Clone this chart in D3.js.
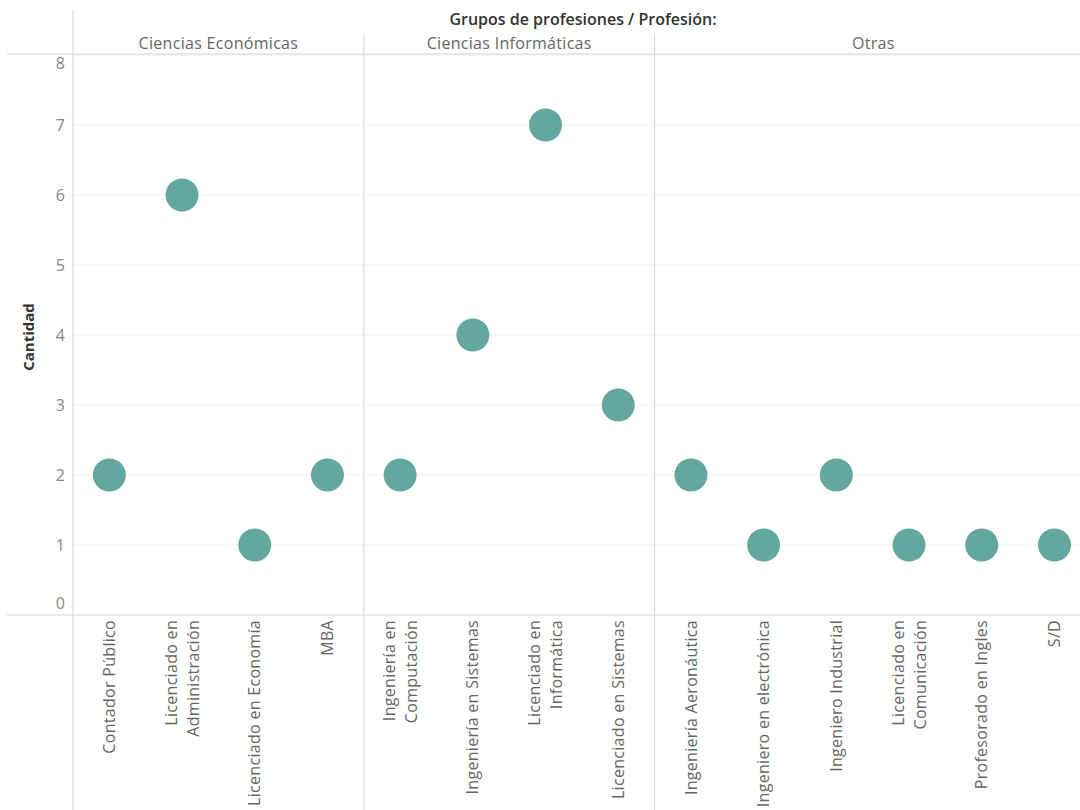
<!DOCTYPE html>
<html>
<head>
<meta charset="utf-8">
<script src="https://cdnjs.cloudflare.com/ajax/libs/d3/7.8.5/d3.min.js"></script>
<style>
  body { margin: 0; background: #fff; }
  svg { display: block; font-family: "Open Sans", Lato, sans-serif; }
</style>
</head>
<body>
<script>
'use strict';

const width = 1080;
const height = 810;

// data
const groups = ['Ciencias Económicas', 'Ciencias Informáticas', 'Otras'];
const professions = [
  'Contador Público', 'Licenciado en|Administración', 'Licenciado en Economía', 'MBA',
  'Ingeniería en|Computación', 'Ingeniería en Sistemas', 'Licenciado en|Informática', 'Licenciado en Sistemas',
  'Ingeniería Aeronáutica', 'Ingeniero en electrónica', 'Ingeniero Industrial', 'Licenciado en|Comunicación',
  'Profesorado en Ingles', 'S/D'
];
const professionGroup = [0, 0, 0, 0, 1, 1, 1, 1, 2, 2, 2, 2, 2, 2];
const counts = [2, 6, 1, 2, 2, 4, 7, 3, 2, 1, 2, 1, 1, 1];
const yTicks = [0, 1, 2, 3, 4, 5, 6, 7, 8];

const data = professions.map((p, i) => ({ name: p, group: professionGroup[i], value: counts[i] }));

const left = 73;
const headerLine = 54;
const plotTop = 55;
const plotBottom = 615;

const svg = d3.select('body')
  .append('svg')
  .attr('width', width)
  .attr('height', height);

const xScale = d3.scaleBand()
  .domain(professions)
  .range([left, left + 14 * 72.7]);

const yScale = d3.scaleLinear()
  .domain([0, 8])
  .range([plotBottom, plotTop]);

// gridlines
svg.append('g')
  .selectAll('line')
  .data(yTicks.filter((d) => d > 0))
  .enter()
  .append('line')
  .attr('x1', left)
  .attr('x2', width)
  .attr('y1', (d) => yScale(d))
  .attr('y2', (d) => yScale(d))
  .attr('stroke', '#efefef')
  .attr('stroke-width', 1);

// y axis labels
const yAxis = d3.axisLeft(yScale)
  .tickValues(yTicks)
  .tickSize(0)
  .tickPadding(0);

const yg = svg.append('g')
  .attr('transform', `translate(${left - 8}, 0)`)
  .call(yAxis);
yg.select('.domain').remove();
yg.selectAll('text')
  .attr('font-family', '"Open Sans", Lato, sans-serif')
  .attr('font-size', '16px')
  .attr('fill', '#888')
  .attr('dy', (d) => d === 0 ? '-0.4em' : d === 8 ? '0.85em' : '0.32em');

svg.append('text')
  .attr('transform', `translate(34, ${(plotTop + plotBottom) / 2 + 2}) rotate(-90)`)
  .attr('text-anchor', 'middle')
  .attr('font-size', '15px')
  .attr('font-weight', 'bold')
  .attr('fill', '#333')
  .text('Cantidad');

// frame lines
svg.append('line')
  .attr('x1', left).attr('x2', left)
  .attr('y1', 10).attr('y2', height)
  .attr('stroke', '#d4d4d4');

svg.append('line')
  .attr('x1', 7).attr('x2', width)
  .attr('y1', headerLine).attr('y2', headerLine)
  .attr('stroke', '#d4d4d4');

svg.append('line')
  .attr('x1', 7).attr('x2', width)
  .attr('y1', plotBottom).attr('y2', plotBottom)
  .attr('stroke', '#d4d4d4');

// group separators and headers
const groupInfo = groups.map((g, gi) => {
  const members = data.filter((d) => d.group === gi);
  const x0 = xScale(members[0].name);
  const x1 = xScale(members[members.length - 1].name) + xScale.bandwidth();
  return { name: g, x0: x0, x1: x1 };
});

svg.append('g')
  .selectAll('line')
  .data(groupInfo.slice(1))
  .enter()
  .append('line')
  .attr('x1', (d) => d.x0)
  .attr('x2', (d) => d.x0)
  .attr('y1', 33)
  .attr('y2', height)
  .attr('stroke', '#d4d4d4');

svg.append('g')
  .selectAll('text')
  .data(groupInfo)
  .enter()
  .append('text')
  .attr('x', (d) => (d.x0 + Math.min(d.x1, width)) / 2 + (d.x1 > width ? 6 : 0))
  .attr('y', 49)
  .attr('text-anchor', 'middle')
  .attr('font-size', '16px')
  .attr('letter-spacing', '0.3px')
  .attr('fill', '#666')
  .text((d) => d.name);

svg.append('text')
  .attr('x', 583)
  .attr('y', 25)
  .attr('text-anchor', 'middle')
  .attr('font-size', '16px')
  .attr('font-weight', '600')
  .attr('fill', '#333')
  .text('Grupos de profesiones / Profesión:');

// x labels, rotated
const labels = svg.append('g')
  .selectAll('g')
  .data(data)
  .enter()
  .append('g')
  .attr('transform', (d) => `translate(${xScale(d.name) + xScale.bandwidth() / 2}, ${plotBottom + 5}) rotate(-90)`);

labels.each(function(d) {
  const lines = d.name.split('|');
  const n = lines.length;
  d3.select(this).selectAll('text')
    .data(lines)
    .enter()
    .append('text')
    .attr('x', 0)
    .attr('y', (l, i) => (i - (n - 1) / 2) * 22)
    .attr('dy', '0.35em')
    .attr('text-anchor', 'end')
    .attr('font-size', '16px')
    .attr('letter-spacing', '0.3px')
    .attr('fill', '#666')
    .text((l) => l);
});

// points
svg.append('g')
  .selectAll('circle')
  .data(data)
  .enter()
  .append('circle')
  .attr('cx', (d) => xScale(d.name) + xScale.bandwidth() / 2)
  .attr('cy', (d) => yScale(d.value))
  .attr('r', 16.5)
  .attr('fill', '#64a79f');
</script>
</body>
</html>
